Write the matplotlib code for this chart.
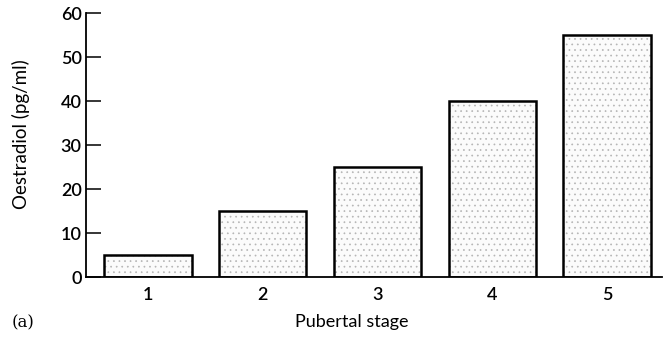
import matplotlib
matplotlib.use("Agg")
import matplotlib.pyplot as plt

stages = [1, 2, 3, 4, 5]
stage_labels = ["1", "2", "3", "4", "5"]
oestradiol = [5, 15, 25, 40, 55]
y_ticks = [0, 10, 20, 30, 40, 50, 60]

plt.rcParams["font.family"] = ["Lato", "DejaVu Sans"]
plt.rcParams["hatch.linewidth"] = 0.5

fig = plt.figure(figsize=(6.63, 3.45), dpi=100)
ax = fig.add_axes([0.1297, 0.197, 0.869, 0.765])

# stippled fill, then a crisp black outline on top
ax.bar(stages, oestradiol, width=0.76, color="#fbfbfb", edgecolor="#b5b5b5",
       linewidth=0, hatch="...")
ax.bar(stages, oestradiol, width=0.76, fill=False, edgecolor="black",
       linewidth=1.8)

ax.set_xlim(0.46, 5.48)
ax.set_ylim(0, 60)
ax.set_xticks(stages)
ax.set_xticklabels(stage_labels)
ax.set_yticks(y_ticks)

for s in ["top", "right"]:
    ax.spines[s].set_visible(False)
ax.spines["left"].set_linewidth(1.3)
ax.spines["bottom"].set_linewidth(1.3)

ax.tick_params(axis="y", direction="in", length=11, width=1.1, labelsize=13, pad=3)
ax.tick_params(axis="x", length=0, labelsize=13, pad=7)
for lbl in ax.get_xticklabels() + ax.get_yticklabels():
    lbl.set_fontweight("semibold")

fig.text(0.031, 0.61, "Oestradiol (pg/ml)", fontsize=13.5, rotation=90,
         ha="center", va="center")
fig.text(0.531, 0.067, "Pubertal stage", fontsize=13, ha="center", va="center")
fig.text(0.018, 0.064, "(a)", fontsize=12, ha="left", va="center",
         family=["DejaVu Serif"])

fig.savefig("out.png", dpi=100)
